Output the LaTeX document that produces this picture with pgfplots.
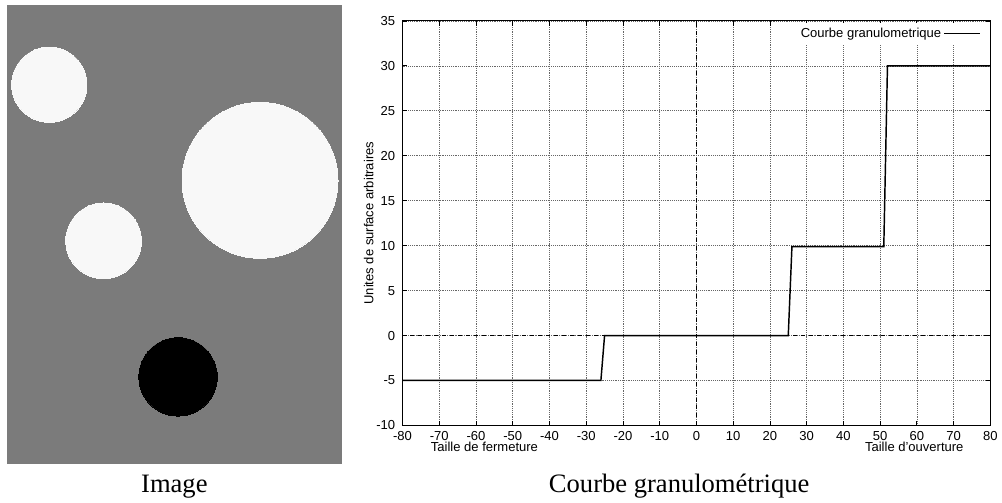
\documentclass[border=0pt]{standalone}
\usepackage{pgfplots}
\pgfplotsset{compat=1.18}
\usepackage{fontspec}
\setmainfont{Liberation Serif}
\newfontfamily\helv{Liberation Sans}
\definecolor{imggray}{HTML}{7B7B7B}
\definecolor{imgwhite}{HTML}{F8F8F8}
\newcommand{\hfont}{\helv\fontsize{9.8}{11}\selectfont}
\begin{document}
\begin{tikzpicture}
% ---------- left: the image ----------
\begin{axis}[
  at={(0pt,0pt)}, anchor=south west,
  x=0.75pt, y=0.75pt,
  xmin=0, xmax=1002, ymin=0, ymax=503,
  hide axis, clip=false]
  \path (axis cs:0,0) rectangle (axis cs:1002,503);
  \addplot[fill=imggray, draw=none] coordinates {(6.7,498.3) (343.3,498.3) (343.3,37.7) (6.7,37.7)} -- cycle;
  \addplot[imgwhite, only marks, mark=*, mark size=28.35pt, mark options={draw=imgwhite, fill=imgwhite, line width=0pt}] coordinates {(49.5,418)};
  \addplot[imgwhite, only marks, mark=*, mark size=58.7pt, mark options={draw=imgwhite, fill=imgwhite, line width=0pt}] coordinates {(261,322)};
  \addplot[imgwhite, only marks, mark=*, mark size=28.5pt, mark options={draw=imgwhite, fill=imgwhite, line width=0pt}] coordinates {(104,261.3)};
  \addplot[black, only marks, mark=*, mark size=29.5pt, mark options={draw=black, fill=black, line width=0pt}] coordinates {(178.7,124.7)};
  \node[font=\fontsize{20}{22}\selectfont, anchor=base] at (axis cs:175,9) {Image};
  \node[font=\fontsize{20}{22}\selectfont, anchor=base] at (axis cs:681.7,9) {Courbe granulométrique};
\end{axis}
% ---------- right: the curve ----------
\begin{axis}[
  at={(303pt,57pt)}, anchor=south west, scale only axis,
  width=442.5pt, height=304.5pt,
  xmin=-80, xmax=80, ymin=-10, ymax=35,
  xtick={-80,-70,...,80}, ytick={-10,-5,...,35},
  tick align=inside, major tick length=3.5pt,
  tick style={black, line width=0.6pt},
  axis line style={black, line width=0.8pt},
  grid=major, major grid style={densely dotted, black!60, line width=0.5pt},
  ticklabel style={font=\hfont},
  /pgf/number format/assume math mode=true,
  xticklabel style={yshift=-1pt},
  yticklabel style={xshift=-2pt},
  ylabel={Unites de surface arbitraires},
  ylabel style={font=\hfont, at={(axis description cs:-0.0576,0.5)}, anchor=center},
  legend plot pos=right,
  legend style={at={(rel axis cs:1,1)}, anchor=north east, xshift=-4pt, yshift=-1pt,
    draw=none, fill=white, font=\hfont},
  legend image code/.code={\draw[black, line width=0.8pt] (0cm,0cm) -- (0.95cm,0cm);},
  clip=false]
  \addplot[black, dashed, line width=0.7pt, forget plot] coordinates {(0,-10) (0,35)};
  \addplot[black, dashed, line width=0.7pt, forget plot] coordinates {(-80,0) (80,0)};
  \addplot[black, line width=1.1pt] coordinates {
    (-80,-5) (-26,-5) (-25,0) (25,0) (26,9.9) (51,9.9) (52,30) (80,30)};
  \addlegendentry{Courbe granulometrique}
  \node[font=\hfont, anchor=center] at (axis cs:-57.7,-10) [yshift=-16.5pt] {Taille de fermeture};
  \node[font=\hfont, anchor=center] at (axis cs:59.3,-10) [yshift=-16.5pt] {Taille d’ouverture};
\end{axis}
\end{tikzpicture}
\end{document}
